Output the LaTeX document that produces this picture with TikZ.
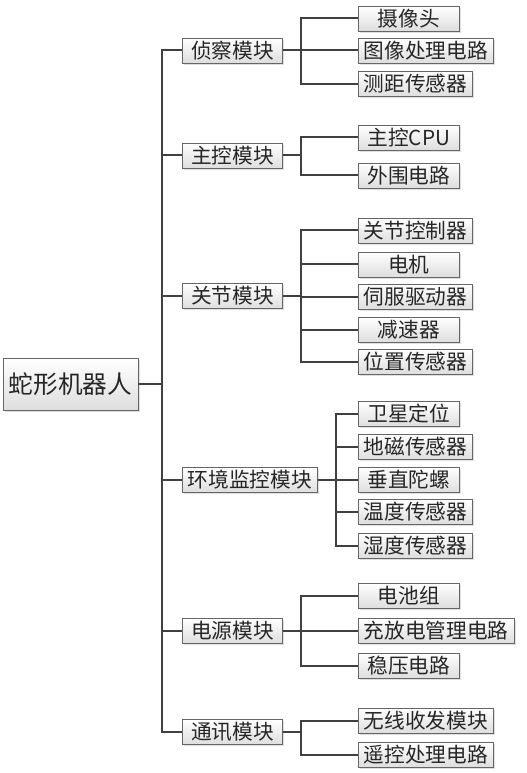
\documentclass[tikz,border=0pt]{standalone}
\usepackage{fontspec}
\setmainfont{Noto Sans CJK SC}
\usetikzlibrary{shadows}
\begin{document}
\begin{tikzpicture}[x=0.75pt,y=-0.75pt,
  box/.style={draw=black!60,line width=0.6pt,top color=white,bottom color=black!13,
    drop shadow={shadow xshift=1.2pt,shadow yshift=-1.2pt,fill=black!25},
    minimum height=18.75pt,inner xsep=4.1pt,inner ysep=0pt,text=black!85,
    font=\fontsize{15.5pt}{18pt}\selectfont},
  module/.style={box,minimum width=75pt,anchor=west},
  part/.style={box,minimum width=75.75pt,anchor=west},
  link/.style={draw=black!75,line width=1.5pt}]
  \useasboundingbox (0,0) rectangle (526,773);
  \node[box,minimum width=101.25pt,minimum height=39pt,
    font=\fontsize{18.5pt}{22pt}\selectfont] (robot) at (70.5,384) {蛇形机器人};
  \foreach \n/\y/\t in {scout/50.5/侦察模块,ctrl/155.5/主控模块,joint/296/关节模块,
      env/480/环境监控模块,power/631/电源模块,comm/732/通讯模块}{
    \node[module] (\n) at (182,\y) {\t};
    \draw[link] (robot.east) -- ++(24,0) |- (\n.west);
  }
  \foreach \p/\n/\y/\t in {scout/cam/18.5/摄像头,scout/img/50.5/图像处理电路,
      scout/range/84/测距传感器,
      ctrl/cpu/137.5/主控CPU,ctrl/periph/175.5/外围电路,
      joint/jctl/230.5/关节控制器,joint/motor/264.5/电机,joint/servo/296.5/伺服驱动器,
      joint/gear/329.5/减速器,joint/pos/361.5/位置传感器,
      env/gps/414/卫星定位,env/mag/446.5/地磁传感器,env/gyro/480/垂直陀螺,
      env/temp/512/温度传感器,env/hum/545.5/湿度传感器,
      power/bat/595.5/电池组,power/charge/630.5/充放电管理电路,power/reg/665.5/稳压电路,
      comm/radio/720.5/无线收发模块,comm/remote/754.5/遥控处理电路}{
    \node[part] (\n) at (358,\y) {\t};
    \draw[link] (\p.east) -- ++(18,0) |- (\n.west);
  }
\end{tikzpicture}
\end{document}
